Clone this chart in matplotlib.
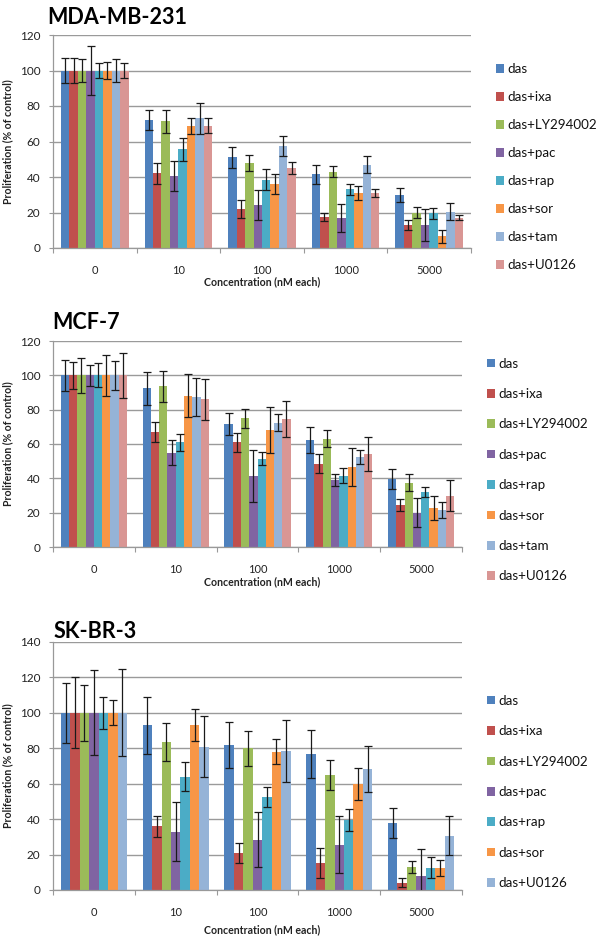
import matplotlib
matplotlib.use('Agg')
import matplotlib.pyplot as plt
import numpy as np

plt.rcParams['font.family'] = ['Lato', 'DejaVu Sans']

concentrations = ['0', '10', '100', '1000', '5000']
series_8 = ['das', 'das+ixa', 'das+LY294002', 'das+pac', 'das+rap', 'das+sor', 'das+tam', 'das+U0126']
series_7 = ['das', 'das+ixa', 'das+LY294002', 'das+pac', 'das+rap', 'das+sor', 'das+U0126']
colors_8 = ['#4F81BD', '#C0504D', '#9BBB59', '#8064A2', '#4BACC6', '#F79646', '#95B3D7', '#D99694']
colors_7 = ['#4F81BD', '#C0504D', '#9BBB59', '#8064A2', '#4BACC6', '#F79646', '#95B3D7']

# MDA-MB-231 (rows = series, cols = concentrations)
mda_means = [
    [100, 72, 51, 41.5, 30],
    [100, 42, 22, 17.5, 13],
    [100, 71.5, 48, 43, 20],
    [100, 40.5, 24, 17, 13],
    [100, 55.5, 38.5, 33, 19.5],
    [100, 68.5, 36, 31, 6.5],
    [100, 73, 57.5, 47, 20.5],
    [100, 69, 45, 31, 17],
]
mda_errs = [
    [7, 5.5, 6, 5.5, 4],
    [7, 6, 5, 2.5, 3],
    [6.5, 6.5, 4.5, 3, 3],
    [14, 8.5, 8.5, 8, 9],
    [4.5, 6.5, 6, 3, 3],
    [5, 4.5, 5.5, 4, 3.5],
    [6.5, 8.5, 5.5, 5, 5],
    [4.5, 4, 3.5, 2.2, 1.5],
]

# MCF-7
mcf_means = [
    [100, 92.5, 71.5, 62.5, 39.5],
    [100, 67, 61, 48.5, 24.5],
    [100, 93.5, 75, 63, 37.5],
    [100, 55, 41.5, 39, 20],
    [100, 61, 51.5, 41.5, 32],
    [100, 88, 68, 46.5, 23],
    [100, 87.5, 72.5, 52.5, 21.5],
    [100, 86, 74.5, 54, 30],
]
mcf_errs = [
    [9, 9.5, 6.5, 7.5, 6],
    [8, 6, 5.5, 5.5, 3.5],
    [10, 9, 5.5, 5, 5],
    [6, 7.5, 15, 3.5, 8.5],
    [7, 5, 4, 4.5, 3],
    [12, 12.5, 13.5, 11, 7],
    [8.5, 11, 5, 4, 4.5],
    [13, 12, 10.5, 10, 9],
]

# SK-BR-3
skbr_means = [
    [100, 93, 82, 77, 38],
    [100, 36, 21, 15, 4],
    [100, 83.5, 80, 65, 13],
    [100, 33, 28.5, 25.5, 8],
    [100, 64, 52.5, 39.5, 12.5],
    [100, 93, 78, 60, 12.5],
    [100, 81, 78.5, 68.5, 30.5],
]
skbr_errs = [
    [17, 16, 13, 13.5, 8.5],
    [20, 6, 5.5, 8.5, 2.5],
    [16, 10.5, 10, 8.5, 3.5],
    [24, 16.5, 15.5, 16, 15],
    [9, 8, 5.5, 6, 6],
    [7, 9, 7, 9, 4.5],
    [24.5, 17, 17.5, 13, 11],
]

W, H = 600, 944
fig = plt.figure(figsize=(W / 100, H / 100), dpi=100)

def px_axes(x0, y0, x1, y1):
    return fig.add_axes([x0 / W, 1 - y1 / H, (x1 - x0) / W, (y1 - y0) / H])

def draw_panel(ax, title, means, errs, names, colors, ymax, title_xy, leg_center, xlabel_y, ax_w):
    means = np.array(means, dtype=float)
    errs = np.array(errs, dtype=float)
    n = len(names)
    x = np.arange(len(concentrations))
    group = 0.81
    bw = group / n
    ax.set_axisbelow(True)
    for i in range(n):
        pos = x - group / 2 + bw * (i + 0.5)
        ax.bar(pos, means[i], width=bw, color=colors[i], label=names[i], zorder=2)
        ax.errorbar(pos, means[i], yerr=errs[i], fmt='none', ecolor='#1a1a1a',
                    elinewidth=0.9, capsize=2.6, capthick=0.9, zorder=3)
    ax.set_xlim(-0.5, len(concentrations) - 0.5)
    ax.set_ylim(0, ymax)
    ax.set_yticks(np.arange(0, ymax + 1, 20))
    ax.set_xticks(x)
    ax.set_xticklabels(concentrations)
    ax.set_xticks(np.arange(-0.5, len(concentrations), 1.0), minor=True)
    ax.tick_params(axis='x', which='major', length=0, pad=12, labelsize=8, labelcolor='#222222')
    ax.tick_params(axis='x', which='minor', length=3.5, color='#999999', width=0.8)
    ax.tick_params(axis='y', which='major', length=3, color='#999999', width=0.8, pad=6,
                   labelsize=8.5, labelcolor='#222222')
    ax.yaxis.grid(True, color='#9a9a9a', linewidth=1.0, zorder=0)
    for s in ['top', 'right']:
        ax.spines[s].set_visible(False)
    for s in ['left', 'bottom']:
        ax.spines[s].set_color('#999999')
        ax.spines[s].set_linewidth(0.9)
    ax.set_ylabel('Proliferation (% of control)', fontsize=7.6, fontweight='bold', color='#222222')
    ax.yaxis.set_label_coords(-(53 - 13) / ax_w, 0.5)
    fig.text(262 / W, 1 - xlabel_y / H, 'Concentration (nM each)', fontsize=7.6,
             fontweight='bold', color='#222222', ha='center', va='center')
    fig.text(title_xy[0] / W, 1 - title_xy[1] / H, title, fontsize=15.5, fontweight='bold',
             color='black', ha='left', va='center')
    leg = ax.legend(loc='center left', bbox_to_anchor=(leg_center[0] / W, 1 - leg_center[1] / H),
                    bbox_transform=fig.transFigure, frameon=False, fontsize=9.6,
                    handlelength=0.6, handleheight=0.6, handletextpad=0.25,
                    labelspacing=leg_center[2], borderpad=0, borderaxespad=0)
    for t in leg.get_texts():
        t.set_color('#111111')

ax1 = px_axes(53, 35, 471, 248)
draw_panel(ax1, 'MDA-MB-231', mda_means, mda_errs, series_8, colors_8, 120,
           (47, 17), (496, 167, 1.2), 282, 418)

ax2 = px_axes(53, 341, 462, 547)
draw_panel(ax2, 'MCF-7', mcf_means, mcf_errs, series_8, colors_8, 120,
           (52, 323), (487, 470, 1.38), 582, 409)

ax3 = px_axes(53, 642, 462, 890)
draw_panel(ax3, 'SK-BR-3', skbr_means, skbr_errs, series_7, colors_7, 140,
           (54, 631), (487, 792, 1.38), 930, 409)

fig.savefig('out.png', dpi=100)
